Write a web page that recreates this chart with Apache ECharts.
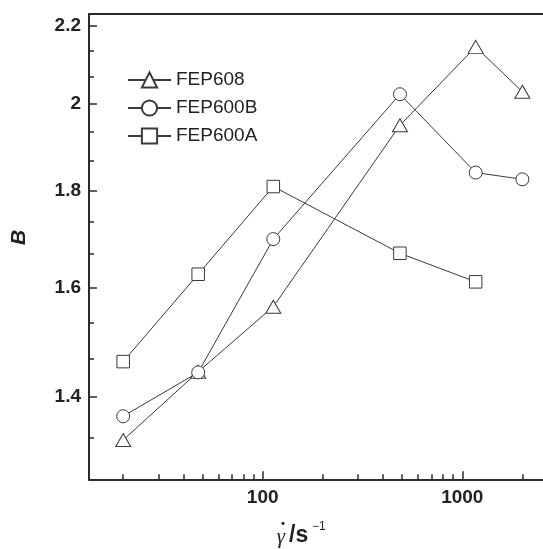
<!DOCTYPE html>
<html>
<head>
<meta charset="utf-8">
<script src="https://cdn.jsdelivr.net/npm/echarts@6/dist/echarts.min.js"></script>
<style>
html,body{margin:0;padding:0;background:#fff;}
#chart{width:543px;height:549px;}
</style>
</head>
<body>
<div id="chart"></div>
<script>
// ---- data ----
const seriesNames = ['FEP608', 'FEP600B', 'FEP600A'];
const shearRates = [20, 47.5, 113, 487, 1167, 2000];
const bFEP608 = [1.329, 1.444, 1.563, 1.949, 2.144, 2.030];
const bFEP600B = [1.368, 1.443, 1.697, 2.024, 1.840, 1.825];
const bFEP600A = [1.462, 1.626, 1.809, 1.668, 1.611];

const yTickValues = [1.4, 1.6, 1.8, 2, 2.2];
const yTickLabels = ['1.4', '1.6', '1.8', '2', '2.2'];
const yMinorTickValues = [1.3333, 1.4667, 1.5333, 1.6667, 1.7333, 1.8667, 1.9333, 2.0667, 2.1333];
const xTickValues = [100, 1000];
const xTickLabels = ['100', '1000'];
const xMinorTickValues = [20, 30, 40, 50, 60, 70, 80, 90, 200, 300, 400, 500, 600, 700, 800, 900, 2000];

const pairs = (xs, ys) => ys.map((y, i) => [xs[i], y]);
const AX = '#2b2b2b';
const LINE = '#3a3a3a';
const labelFont = 'Liberation Sans';

function yLabel(v) {
  let best = 0, d = Infinity;
  yTickValues.forEach((t, i) => { const dd = Math.abs(t - v); if (dd < d) { d = dd; best = i; } });
  return yTickLabels[best];
}
function xLabel(v) {
  let best = 0, d = Infinity;
  xTickValues.forEach((t, i) => { const dd = Math.abs(Math.log10(t) - Math.log10(v)); if (dd < d) { d = dd; best = i; } });
  return xTickLabels[best];
}

const xMin = 13.48, xMax = 2537, yMin = 1.267, yMax = 2.2315;
const grid = { left: 89, top: 14, right: 0, height: 465.3, show: false };

function mkSeries(name, data, symbol, size) {
  return {
    name, type: 'line', data, symbol, symbolSize: size,
    xAxisIndex: 0, yAxisIndex: 0,
    lineStyle: { color: LINE, width: 1 },
    itemStyle: { color: '#fff', borderColor: LINE, borderWidth: 1 },
    emphasis: { disabled: true },
    z: 3
  };
}

const chart = echarts.init(document.getElementById('chart'), null, { renderer: 'canvas' });
chart.setOption({
  animation: false,
  backgroundColor: '#fff',
  grid,
  legend: {
    left: 122, top: 65.5, orient: 'vertical',
    itemWidth: 43, itemHeight: 19, itemGap: 9, itemTextGap: 5,
    data: seriesNames,
    textStyle: { fontFamily: labelFont, fontSize: 19, color: '#222', lineHeight: 17 }
  },
  xAxis: [
    {
      type: 'log', logBase: 10, min: xMin, max: xMax, gridIndex: 0, position: 'bottom', offset: 0,
      axisLine: { show: true, lineStyle: { color: AX, width: 2 } },
      axisTick: { show: true, inside: true, length: 8, lineStyle: { color: AX, width: 1.5 }, customValues: xTickValues },
      axisLabel: { show: true, margin: 9, fontFamily: labelFont, fontWeight: 'bold', fontSize: 19, color: '#222',
        customValues: xTickValues, formatter: xLabel },
      splitLine: { show: false }, minorTick: { show: false }
    },
    {
      type: 'log', logBase: 10, min: xMin, max: xMax, gridIndex: 0, position: 'bottom', offset: 0,
      axisLine: { show: false },
      axisTick: { show: true, inside: true, length: 5, lineStyle: { color: AX, width: 1.5 }, customValues: xMinorTickValues },
      axisLabel: { show: false }, splitLine: { show: false }
    },
    {
      type: 'log', logBase: 10, min: xMin, max: xMax, gridIndex: 0, position: 'top', offset: 0,
      axisLine: { show: true, lineStyle: { color: AX, width: 2 } },
      axisTick: { show: false }, axisLabel: { show: false }, splitLine: { show: false }
    }
  ],
  yAxis: [
    {
      type: 'log', logBase: 10, min: yMin, max: yMax, gridIndex: 0, position: 'left', offset: 0,
      axisLine: { show: true, lineStyle: { color: AX, width: 2 } },
      axisTick: { show: true, inside: true, length: 8, lineStyle: { color: AX, width: 1.5 }, customValues: yTickValues },
      axisLabel: { show: true, margin: 8, fontFamily: labelFont, fontWeight: 'bold', fontSize: 19, color: '#222',
        customValues: yTickValues, formatter: yLabel },
      splitLine: { show: false }
    },
    {
      type: 'log', logBase: 10, min: yMin, max: yMax, gridIndex: 0, position: 'left', offset: 0,
      axisLine: { show: false },
      axisTick: { show: true, inside: true, length: 5, lineStyle: { color: AX, width: 1.5 }, customValues: yMinorTickValues },
      axisLabel: { show: false }, splitLine: { show: false }
    }
  ],
  series: [
    mkSeries(seriesNames[0], pairs(shearRates, bFEP608), 'triangle', [15, 13]),
    mkSeries(seriesNames[1], pairs(shearRates, bFEP600B), 'circle', 13),
    mkSeries(seriesNames[2], pairs(shearRates, bFEP600A), 'rect', 12.5)
  ],
  graphic: [
    { type: 'text', x: 19, y: 237.5, rotation: Math.PI / 2,
      style: { text: 'B', font: 'italic bold 21px "Liberation Sans"', fill: '#222', align: 'center', verticalAlign: 'middle' } },
    { type: 'text', x: 281, y: 537,
      style: { text: 'γ', font: 'italic 21px "Liberation Serif"', fill: '#222', align: 'center', verticalAlign: 'middle' } },
    { type: 'text', x: 283, y: 532,
      style: { text: '˙', font: 'bold 21px "Liberation Serif"', fill: '#222', align: 'center', verticalAlign: 'middle' } },
    { type: 'text', x: 289, y: 536,
      style: { text: '/s', font: 'bold 23px "Liberation Sans"', fill: '#222', align: 'left', verticalAlign: 'middle' } },
    { type: 'text', x: 312, y: 527,
      style: { text: '−1', font: '12px "Liberation Sans"', fill: '#222', align: 'left', verticalAlign: 'middle' } }
  ]
});
</script>
</body>
</html>
